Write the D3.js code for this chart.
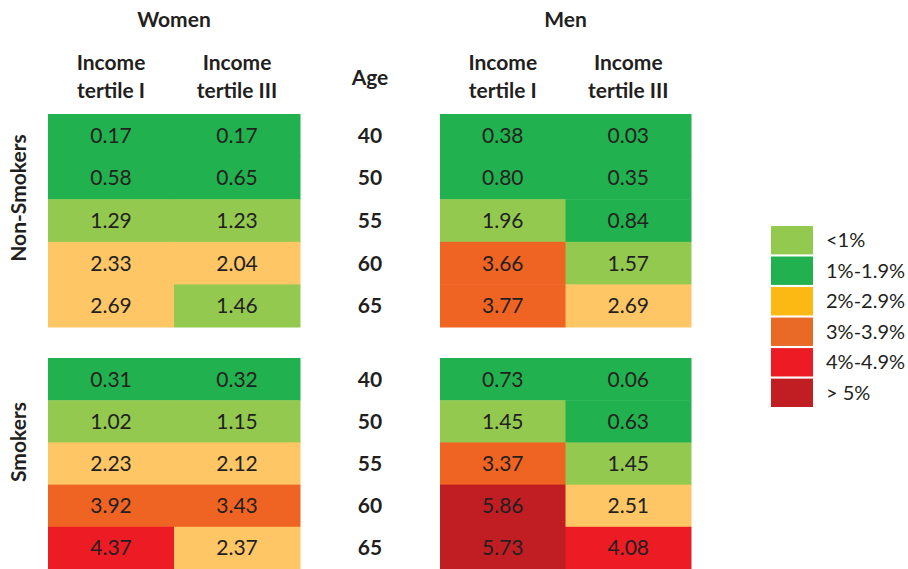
<!DOCTYPE html>
<html><head><meta charset="utf-8">
<script src="https://cdn.jsdelivr.net/npm/d3@7"></script>
<style>
body{margin:0;background:#fff;}
svg{display:block;font-family:Lato,"Open Sans",sans-serif;}
</style></head>
<body>
<svg id="chart" width="908" height="569"></svg>
<script>
const ages = ["40","50","55","60","65"];
const columns = ["Income\ntertile I","Income\ntertile III"];
const womenNonSmokersT1 = [0.17,0.58,1.29,2.33,2.69];
const womenNonSmokersT3 = [0.17,0.65,1.23,2.04,1.46];
const menNonSmokersT1 = [0.38,0.80,1.96,3.66,3.77];
const menNonSmokersT3 = [0.03,0.35,0.84,1.57,2.69];
const womenSmokersT1 = [0.31,1.02,2.23,3.92,4.37];
const womenSmokersT3 = [0.32,1.15,2.12,3.43,2.37];
const menSmokersT1 = [0.73,1.45,3.37,5.86,5.73];
const menSmokersT3 = [0.06,0.63,1.45,2.51,4.08];
const legendLabels = ["<1%","1%-1.9%","2%-2.9%","3%-3.9%","4%-4.9%","> 5%"];
const legendColors = ["#92C94E","#21B14F","#FDB913","#E96A27","#ED1C24","#C11E24"];
const cellThresholds = [1,2,3,4,5];
const cellColors = ["#21B14F","#92C94E","#FEC665","#F06423","#ED1C24","#C11E24"];

const svg = d3.select("#chart");
const color = d3.scaleThreshold().domain(cellThresholds).range(cellColors);
const textColor = "#231F20";

const xWomen = d3.scaleBand().domain([0,1]).range([48,300]);
const xMen = d3.scaleBand().domain([0,1]).range([440,691]);
const yNon = d3.scaleBand().domain(ages).range([114,327]);
const ySmk = d3.scaleBand().domain(ages).range([358,569]);

function block(x, y, t1, t3){
  const cells = [];
  ages.forEach((a,i)=>{ cells.push({c:0,a,v:t1[i]}); cells.push({c:1,a,v:t3[i]}); });
  const g = svg.append("g");
  g.selectAll("rect").data(cells).join("rect")
    .attr("x",d=>x(d.c)).attr("y",d=>y(d.a))
    .attr("width",x.bandwidth()+0.5).attr("height",y.bandwidth()+0.5)
    .attr("fill",d=>color(d.v));
  g.selectAll("text").data(cells).join("text")
    .attr("x",d=>x(d.c)+x.bandwidth()/2).attr("y",d=>y(d.a)+y.bandwidth()/2+7.5)
    .attr("text-anchor","middle").attr("font-size",21).attr("fill",textColor)
    .text(d=>d.v.toFixed(2));
}
block(xWomen,yNon,womenNonSmokersT1,womenNonSmokersT3);
block(xMen,yNon,menNonSmokersT1,menNonSmokersT3);
block(xWomen,ySmk,womenSmokersT1,womenSmokersT3);
block(xMen,ySmk,menSmokersT1,menSmokersT3);

// age labels
[yNon,ySmk].forEach(y=>{
  svg.append("g").selectAll("text").data(ages).join("text")
    .attr("x",370).attr("y",d=>y(d)+y.bandwidth()/2+7.5)
    .attr("text-anchor","middle").attr("font-size",21).attr("font-weight","bold")
    .attr("fill",textColor).text(d=>d);
});

// headers
function header(x, title){
  svg.append("text").attr("x",(x.range()[0]+x.range()[1])/2).attr("y",27)
    .attr("text-anchor","middle").attr("font-size",21).attr("font-weight","bold")
    .attr("fill",textColor).text(title);
  columns.forEach((c,i)=>{
    const t = svg.append("text").attr("text-anchor","middle").attr("font-size",21)
      .attr("font-weight","bold").attr("fill",textColor);
    c.split("\n").forEach((line,j)=>{
      t.append("tspan").attr("x",x(i)+x.bandwidth()/2).attr("y",70+j*28).text(line);
    });
  });
}
header(xWomen,"Women");
header(xMen,"Men");
svg.append("text").attr("x",370).attr("y",85).attr("text-anchor","middle")
  .attr("font-size",21).attr("font-weight","bold").attr("fill",textColor).text("Age");

// row group labels
svg.append("text").attr("transform","translate(26,198) rotate(-90)")
  .attr("text-anchor","middle").attr("font-size",21).attr("font-weight","bold")
  .attr("fill",textColor).text("Non-Smokers");
svg.append("text").attr("transform","translate(26,442) rotate(-90)")
  .attr("text-anchor","middle").attr("font-size",21).attr("font-weight","bold")
  .attr("fill",textColor).text("Smokers");

// legend
const yLeg = d3.scaleBand().domain(legendLabels).range([226,407]).paddingInner(0.07);
const lg = svg.append("g");
lg.selectAll("rect").data(legendLabels).join("rect")
  .attr("x",771).attr("y",d=>yLeg(d)).attr("width",42).attr("height",yLeg.bandwidth())
  .attr("fill",(d,i)=>legendColors[i]);
lg.selectAll("text").data(legendLabels).join("text")
  .attr("x",826).attr("y",d=>yLeg(d)+yLeg.bandwidth()/2+7)
  .attr("font-size",20).attr("fill",textColor).text(d=>d);
</script>
</body></html>
